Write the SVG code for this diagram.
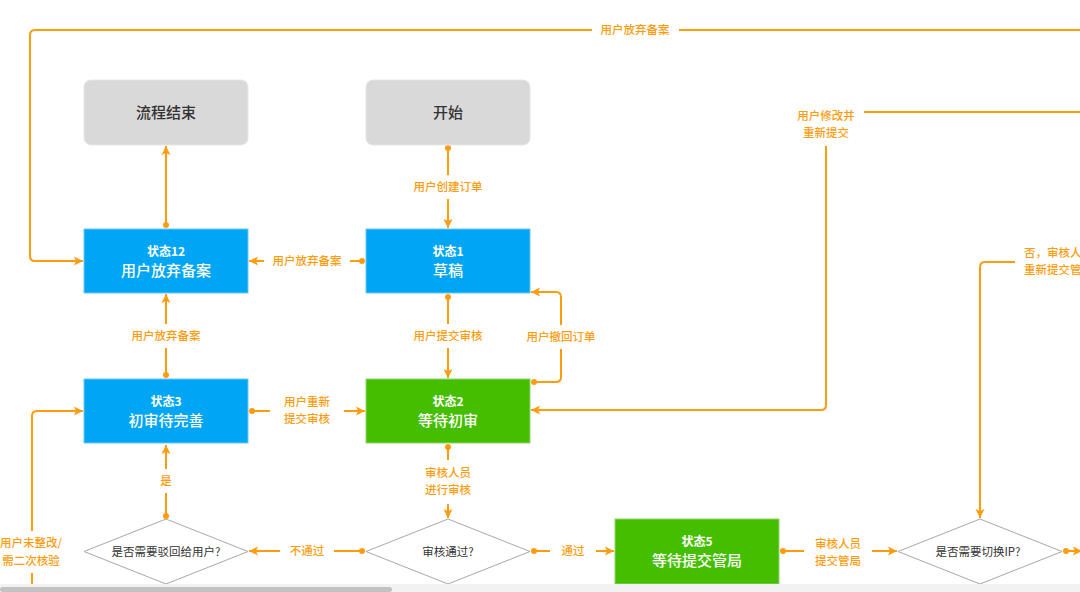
<svg xmlns="http://www.w3.org/2000/svg" width="1080" height="592" viewBox="0 0 1080 592">
<defs>
<marker id="arr" markerUnits="userSpaceOnUse" markerWidth="10" markerHeight="10" refX="9" refY="5" orient="auto">
<path d="M0,0.5 L9,5 L0,9.5 L2,5 z" fill="#FF9C0E"/>
</marker>
<marker id="dot" markerUnits="userSpaceOnUse" markerWidth="8" markerHeight="8" refX="4" refY="4" orient="auto">
<circle cx="4" cy="4" r="3" fill="#FF9C0E"/>
</marker>
<style>
.c{fill:none;stroke:#FF9C0E;stroke-width:2;marker-end:url(#arr)}
.d{marker-start:url(#dot)}
.lb{fill:#fff}
.lt{font-family:"Noto Sans CJK SC","Noto Sans",sans-serif;font-size:11.5px;font-weight:500;fill:#FF9C0E;text-anchor:middle}
.ls{font-family:"Noto Sans CJK SC","Noto Sans",sans-serif;font-size:11.5px;font-weight:500;fill:#FF9C0E;text-anchor:start}
.gray{fill:#d9d9d9;stroke:#e6e6e6;stroke-width:1}
.blue{fill:#00A6F4;stroke:#6cc8f5;stroke-width:1}
.green{fill:#45BE00;stroke:#8fd66a;stroke-width:1}
.dia{fill:#fff;stroke:#a8a8a8;stroke-width:1}
.gt{font-family:"Noto Sans CJK SC","Noto Sans",sans-serif;font-size:15px;font-weight:500;fill:#333;text-anchor:middle}
.t1{font-family:"Noto Sans CJK SC","Noto Sans",sans-serif;font-size:12px;font-weight:700;fill:#fff;text-anchor:middle}
.t2{font-family:"Noto Sans CJK SC","Noto Sans",sans-serif;font-size:15px;font-weight:500;fill:#fff;text-anchor:middle}
.dt{font-family:"Noto Sans CJK SC","Noto Sans",sans-serif;font-size:11.5px;fill:#333;text-anchor:middle}
</style>
</defs>
<rect x="0" y="0" width="1080" height="592" fill="#fff"/>

<g id="connectors">
<path class="c" d="M1080,30 H35 Q30,30 30,35 V256 Q30,261 35,261 H83"/>
<path class="c d" d="M448,148 V228"/>
<path class="c d" d="M166,225 V146"/>
<path class="c d" d="M362,261 H249"/>
<path class="c d" d="M448,297 V378"/>
<path class="c d" d="M166,375 V294"/>
<path class="c d" d="M534,382 H556 Q561,382 561,377 V297 Q561,292 556,292 H531"/>
<path class="c d" d="M252,411 H365"/>
<path class="c d" d="M448,447 V518"/>
<path class="c d" d="M362,551 H249"/>
<path class="c d" d="M166,516 V445"/>
<path class="c d" d="M534,551 H614"/>
<path class="c d" d="M783,551 H897"/>
<path class="c d" d="M1066,551 H1082"/>
<path class="c" d="M1080,112 H831 Q826,112 826,117 V405 Q826,410 821,410 H531"/>
<path class="c" d="M1080,262 H985 Q980,262 980,267 V518"/>
<path class="c" d="M32,600 V416 Q32,411 37,411 H83"/>

<g id="labels">
<rect class="lb" x="592" y="20" width="87" height="20"/>
<text class="lt" x="635" y="34">用户放弃备案</text>
<rect class="lb" x="406" y="175" width="84" height="24"/>
<text class="lt" x="448" y="191">用户创建订单</text>
<rect class="lb" x="264" y="250" width="86" height="22"/>
<text class="lt" x="307" y="265">用户放弃备案</text>
<rect class="lb" x="406" y="324" width="84" height="24"/>
<text class="lt" x="448" y="340">用户提交审核</text>
<rect class="lb" x="124" y="324" width="84" height="24"/>
<text class="lt" x="166" y="340">用户放弃备案</text>
<rect class="lb" x="522" y="325" width="78" height="24"/>
<text class="lt" x="561" y="341">用户撤回订单</text>
<rect class="lb" x="270" y="392" width="74" height="38"/>
<text class="lt" x="307" y="406">用户重新</text>
<text class="lt" x="307" y="423">提交审核</text>
<rect class="lb" x="416" y="460" width="64" height="44"/>
<text class="lt" x="448" y="477">审核人员</text>
<text class="lt" x="448" y="494">进行审核</text>
<rect class="lb" x="280" y="540" width="54" height="22"/>
<text class="lt" x="307" y="555">不通过</text>
<rect class="lb" x="150" y="469" width="32" height="24"/>
<text class="lt" x="166" y="485">是</text>
<rect class="lb" x="550" y="540" width="46" height="22"/>
<text class="lt" x="573" y="555">通过</text>
<rect class="lb" x="804" y="532" width="68" height="38"/>
<text class="lt" x="838" y="548">审核人员</text>
<text class="lt" x="838" y="565">提交管局</text>
<rect class="lb" x="790" y="102" width="74" height="44"/>
<text class="lt" x="826" y="120">用户修改并</text>
<text class="lt" x="826" y="137">重新提交</text>
<rect class="lb" x="1015" y="243" width="65" height="38"/>
<text class="ls" x="1024" y="257">否，审核人</text>
<text class="ls" x="1024" y="274">重新提交管</text>
<rect class="lb" x="0" y="531" width="64" height="42"/>
<text class="lt" x="31" y="547">用户未整改/</text>
<text class="lt" x="31" y="565">需二次核验</text>
</g>
</g>

<g id="end">
<rect class="gray" x="84" y="80" width="164" height="65" rx="7"/>
<text class="gt" x="166" y="118">流程结束</text>
</g>
<g id="start">
<rect class="gray" x="366" y="80" width="164" height="65" rx="7"/>
<text class="gt" x="448" y="118">开始</text>
</g>
<g id="state12">
<rect class="blue" x="84" y="229" width="164" height="64"/>
<text class="t1" x="166" y="255.5">状态12</text>
<text class="t2" x="166" y="275.5">用户放弃备案</text>
</g>
<g id="state1">
<rect class="blue" x="366" y="229" width="164" height="64"/>
<text class="t1" x="448" y="255.5">状态1</text>
<text class="t2" x="448" y="275.5">草稿</text>
</g>
<g id="state3">
<rect class="blue" x="84" y="379" width="164" height="64"/>
<text class="t1" x="166" y="405.5">状态3</text>
<text class="t2" x="166" y="425.5">初审待完善</text>
</g>
<g id="state2">
<rect class="green" x="366" y="379" width="164" height="64"/>
<text class="t1" x="448" y="405.5">状态2</text>
<text class="t2" x="448" y="425.5">等待初审</text>
</g>
<g id="state5">
<rect class="green" x="615" y="519" width="164" height="65"/>
<text class="t1" x="697" y="546">状态5</text>
<text class="t2" x="697" y="566">等待提交管局</text>
</g>
<g id="decision-reject">
<polygon class="dia" points="166,519 248,551.5 166,584 84,551.5"/>
<text class="dt" x="166" y="555.5">是否需要驳回给用户?</text>
</g>
<g id="decision-pass">
<polygon class="dia" points="448,519 530,551.5 448,584 366,551.5"/>
<text class="dt" x="448" y="555.5">审核通过?</text>
</g>
<g id="decision-ip">
<polygon class="dia" points="980,519 1062,551.5 980,584 898,551.5"/>
<text class="dt" x="978" y="555.5">是否需要切换IP?</text>
</g>

<rect x="0" y="584" width="1080" height="8" fill="#f2f2f2"/>
<rect x="0" y="587" width="392" height="5" rx="2.5" fill="#c2c2c2"/>
</svg>
